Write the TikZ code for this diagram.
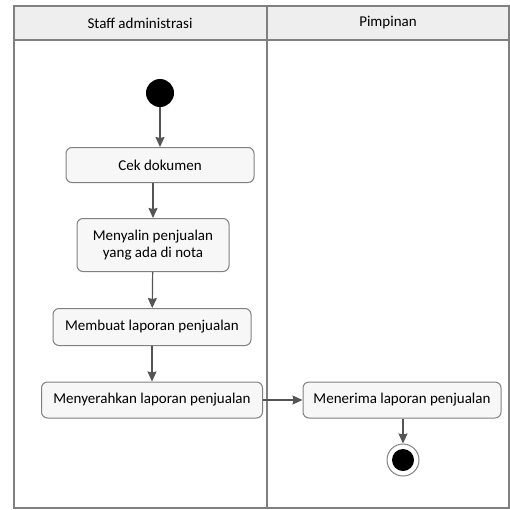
\documentclass[tikz,border=0pt]{standalone}
\usepackage{fontspec}
\setmainfont{Carlito}
\usepackage{tikz}
\usetikzlibrary{positioning, arrows.meta, backgrounds}
\definecolor{edge}{RGB}{85,85,85}
\definecolor{hdr}{RGB}{238,238,238}
\tikzstyle{act}=[draw=edge!75, fill=black!3, rounded corners=6pt, line width=1pt, inner sep=0pt, align=center, font=\fontsize{15}{17}\selectfont]
\tikzstyle{lane}=[draw=edge!75, line width=1.2pt]
\tikzstyle{flow}=[->, draw=edge, line width=1.2pt]
\tikzset{>={Stealth[length=10pt, width=9pt, inset=1pt]}}

\begin{document}
\begin{tikzpicture}[x=1pt, y=-1pt]
\useasboundingbox (0,0) rectangle (510,509);
% lanes
\draw[lane, fill=hdr] (14,6) rectangle (509,40);
\draw[lane] (14,40) -- (14,508) -- (509,508) -- (509,40);
\draw[lane, line width=2pt] (267,6) -- (267,508);
\node[font=\fontsize{15}{17}\selectfont] (L0) at (140,23) {Staff administrasi};
\node[font=\fontsize{15}{17}\selectfont] (L1) at (388,23) {Pimpinan};

\node[circle, fill=black, minimum size=28pt, inner sep=0pt] (S) at (160,93) {};
\node[act, minimum width=188pt, minimum height=35pt] (A0) at (160,165) {Cek dokumen};
\node[act, minimum width=152pt, minimum height=53pt] (A1) at (153,245) {Menyalin penjualan\\yang ada di nota};
\node[act, minimum width=198pt, minimum height=37pt] (A2) at (152,327) {Membuat laporan penjualan};
\node[act, minimum width=221pt, minimum height=36pt] (A3) at (152,400) {Menyerahkan laporan penjualan};
\node[act, minimum width=198pt, minimum height=36pt] (B0) at (402,400) {Menerima laporan penjualan};
\node[circle, draw=edge!75, line width=1pt, minimum size=32pt, inner sep=0pt] (E) at (403,460) {};
\node[circle, fill=black, minimum size=22pt, inner sep=0pt] at (E) {};

\draw[flow] (S) -- (A0);
\draw[flow] (A0.south -| A1) -- (A1);
\draw[flow] (A1) -- (A2);
\draw[flow] (A2) -- (A3);
\draw[flow] (A3) -- (B0);
\draw[flow] (B0.south -| E) -- (E);
\end{tikzpicture}
\end{document}
